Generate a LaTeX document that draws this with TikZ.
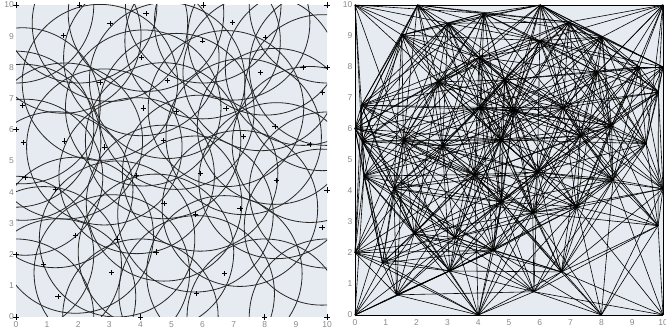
\documentclass[tikz,border=0pt]{standalone}
\usepackage{fontspec}
\setmainfont{Liberation Sans}
\definecolor{bgc}{HTML}{E6EBF1}
\definecolor{labc}{HTML}{8A8A8A}
\definecolor{circc}{HTML}{262626}
\def\pts{0/10,2.03/10,4.18/9.73,3.02/9.41,1.52/9.03,4.03/8.31,2.7/7.52,4.86/7.58,0.21/6.77,4.09/6.7,0/6.02,0.23/5.6,1.57/5.64,2.84/5.45,4.73/5.65,6.02/10,10/10,6.95/9.45,8.02/8.97,6.0/8.85,9.23/8.0,10/8.0,7.87/7.83,9.85/7.19,5.16/6.59,6.75/6.68,8.33/6.11,7.32/5.78,9.45/5.53,0.29/4.48,1.26/4.08,3.88/4.53,4.76/3.65,1.92/2.62,3.25/2.5,4.5/2.08,0/2.01,0.89/1.68,3.08/1.42,1.35/0.65,0/0,4/0,5.92/4.61,8.38/4.37,10/4.07,5.77/3.3,7.2/3.48,9.84/2.88,6.7/1.39,5.81/0.75,8/0,10/0}
\tikzset{
  circ/.style={draw=circc, line width=0.8pt},
  plusmark/.style={draw=black, line width=0.7pt},
  edgeline/.style={draw=black, line width=0.6pt},
  lab/.style={text=labc, font=\fontsize{8.5}{10}\selectfont, inner sep=0pt}
}
\begin{document}
\begin{tikzpicture}[x=1pt,y=1pt]
\useasboundingbox (0,0) rectangle (666,336);
\fill[white] (0,0) rectangle (666,336);
% ---------- left panel ----------
\begin{scope}[shift={(16pt,19pt)},x=31.1pt,y=31.2pt]
  \fill[bgc] (0,0) rectangle (10,10);
  \foreach \x/\y [count=\i] in \pts {\coordinate (l\i) at (\x,\y);}
  \begin{scope}
    \clip (0,0) rectangle (10,10);
    \foreach \i in {1,...,52} {\draw[circ] (l\i) circle[radius=2.5];}
  \end{scope}
  \foreach \i in {1,...,52} {
    \draw[plusmark] (l\i) ++(-2.6pt,0) -- ++(5.2pt,0);
    \draw[plusmark] (l\i) ++(0,-2.6pt) -- ++(0,5.2pt);
  }
  \foreach \k in {0,...,10} {
    \node[lab, anchor=east] (lyl\k) at (-0.065,\k) {\k};
    \node[lab] (lxl\k) at (\k,-0.23) {\k};
  }
\end{scope}
% ---------- right panel ----------
\begin{scope}[shift={(355pt,21pt)},x=30.8pt,y=31pt]
  \fill[bgc] (0,0) rectangle (10,10);
  \foreach \x/\y [count=\i] in \pts {\coordinate (r\i) at (\x,\y);}
  \foreach \xa/\ya [count=\i] in \pts {
    \foreach \xb/\yb [count=\j] in \pts {
      \ifnum\j>\i
        \pgfmathtruncatemacro{\dd}{10*((\xa-\xb)*(\xa-\xb)+(\ya-\yb)*(\ya-\yb))}
        \ifnum\dd<250
          \draw[edgeline] (r\i) -- (r\j);
        \fi
      \fi
    }
  }
  \foreach \k in {0,...,10} {
    \node[lab, anchor=east] (lyr\k) at (-0.08,\k) {\k};
    \node[lab] (lxr\k) at (\k,-0.23) {\k};
  }
\end{scope}
\end{tikzpicture}
\end{document}
